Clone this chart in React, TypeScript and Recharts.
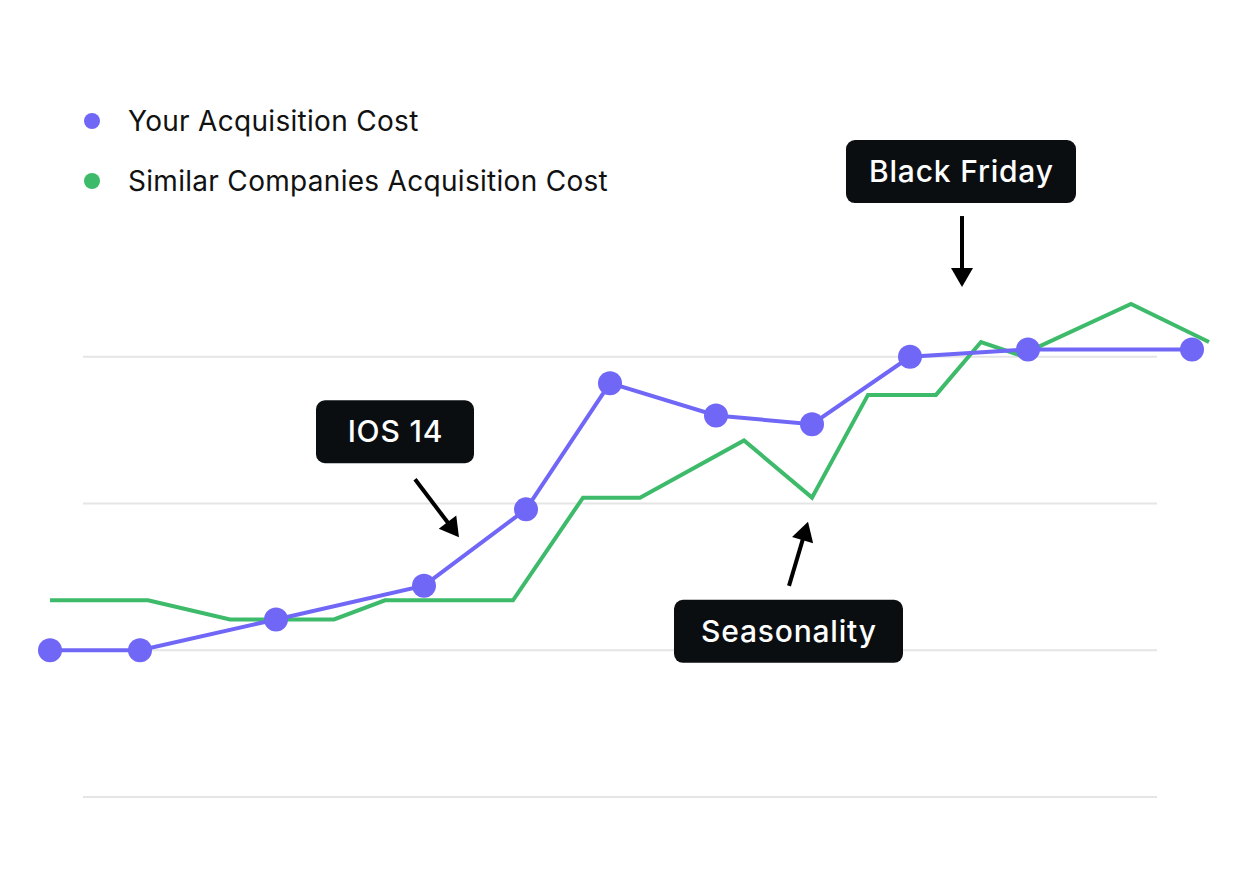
import { LineChart, Line, XAxis, YAxis, ReferenceLine, ReferenceDot, Legend } from "recharts"

const PURPLE = "#7067F7"
const GREEN = "#3DBA6A"
const DARK = "#0B0E11"
const FONT = "Inter, 'Noto Sans', sans-serif"

// your acquisition cost (day index, cost)
const yourDays = [0, 9, 22.6, 37.4, 47.6, 56, 66.6, 76.2, 86, 97.8, 114.2]
const yourCost = [10, 10, 12.1, 14.4, 19.6, 28.2, 26, 25.4, 30, 30.5, 30.5]

// similar companies acquisition cost
const similarDays = [0, 9.8, 18, 28.4, 33.5, 46.3, 53.3, 59, 69.4, 76.2, 81.8, 88.6, 93.1, 97, 108.1, 115.9]
const similarCost = [13.4, 13.4, 12.1, 12.1, 13.4, 13.4, 20.4, 20.4, 24.3, 20.4, 27.4, 27.4, 31, 30.1, 33.6, 31]

const gridValues = [0, 10, 20, 30]
const gridFrom = 3.3
const gridTo = 110.7

// annotations: arrow tip in data space
const noteLabels = ["IOS 14", "Seasonality", "Black Friday"]
const noteDays = [40.9, 75.8, 91.2]
const noteCosts = [17.7, 18.75, 34.75]

const seriesNames = ["Your Acquisition Cost", "Similar Companies Acquisition Cost"]
const seriesColors = [PURPLE, GREEN]

// callout geometry, relative to the arrow tip
const calloutStyle: Record<string, { tail: [number, number]; box: [number, number]; width: number }> = {
  "IOS 14": { tail: [-44, -58], box: [-64, -105.5], width: 158 },
  Seasonality: { tail: [-19, 64], box: [-19.5, 109.5], width: 229 },
  "Black Friday": { tail: [0, -71], box: [-1, -115.5], width: 230 },
}

const yourData = yourDays.map((day, i) => ({ day, cost: yourCost[i] }))
const similarData = similarDays.map((day, i) => ({ day, cost: similarCost[i] }))

function Callout(props: any) {
  const { cx, cy, label } = props
  const s = calloutStyle[label]
  const tx = cx + s.tail[0]
  const ty = cy + s.tail[1]
  const dx = cx - tx
  const dy = cy - ty
  const len = Math.hypot(dx, dy)
  const ux = dx / len
  const uy = dy / len
  const headLen = 19
  const headW = 11
  const bx = cx - ux * headLen
  const by = cy - uy * headLen
  const px = -uy
  const py = ux
  const pts = `${cx},${cy} ${bx + px * headW},${by + py * headW} ${bx - px * headW},${by - py * headW}`
  const bcx = cx + s.box[0]
  const bcy = cy + s.box[1]
  return (
    <g>
      <line x1={tx} y1={ty} x2={bx + ux * 2} y2={by + uy * 2} stroke="#000" strokeWidth={4} />
      <polygon points={pts} fill="#000" />
      <rect x={bcx - s.width / 2} y={bcy - 31.5} width={s.width} height={63} rx={9} fill={DARK} />
      <text
        x={bcx + 0.4}
        y={bcy + 10.5}
        textAnchor="middle"
        fill="#fff"
        fontSize={30}
        fontWeight={500}
        letterSpacing={0.8}
        fontFamily={FONT}
      >
        {label}
      </text>
    </g>
  )
}

function LegendContent() {
  return (
    <div style={{ fontFamily: FONT }}>
      {seriesNames.map((name, i) => (
        <div key={name} style={{ display: "flex", alignItems: "center", height: 60 }}>
          <span
            style={{
              width: 16,
              height: 16,
              borderRadius: "50%",
              background: seriesColors[i],
              marginRight: 28,
              flex: "none",
            }}
          />
          <span style={{ fontSize: 28, letterSpacing: 0.3, color: "#111", whiteSpace: "nowrap" }}>{name}</span>
        </div>
      ))}
    </div>
  )
}

export default function App() {
  return (
    <div style={{ position: "absolute", left: 0, top: 0, background: "#fff" }}>
      <LineChart width={1240} height={890} margin={{ top: 210, right: 30, bottom: 93, left: 50 }}>
        <XAxis type="number" dataKey="day" domain={[0, 116]} hide />
        <YAxis type="number" domain={[0, 40]} hide />
        {gridValues.map((v) => (
          <ReferenceLine
            key={v}
            segment={[
              { x: gridFrom, y: v },
              { x: gridTo, y: v },
            ]}
            stroke="#E5E5E5"
            strokeWidth={2}
          />
        ))}
        <Legend
          verticalAlign="middle"
          align="center"
          layout="horizontal"
          content={<LegendContent />}
          wrapperStyle={{ left: 84, top: 91, width: 700 }}
        />
        <Line
          data={similarData}
          dataKey="cost"
          name={seriesNames[1]}
          type="linear"
          stroke={GREEN}
          strokeWidth={4}
          dot={false}
          activeDot={false}
          isAnimationActive={false}
        />
        <Line
          data={yourData}
          dataKey="cost"
          name={seriesNames[0]}
          type="linear"
          stroke={PURPLE}
          strokeWidth={4}
          dot={{ r: 12, fill: PURPLE, stroke: "none" }}
          activeDot={false}
          isAnimationActive={false}
        />
        {noteLabels.map((label, i) => (
          <ReferenceDot
            key={label}
            x={noteDays[i]}
            y={noteCosts[i]}
            r={0}
            ifOverflow="visible"
            shape={(p: any) => <Callout {...p} label={label} />}
          />
        ))}
      </LineChart>
    </div>
  )
}
